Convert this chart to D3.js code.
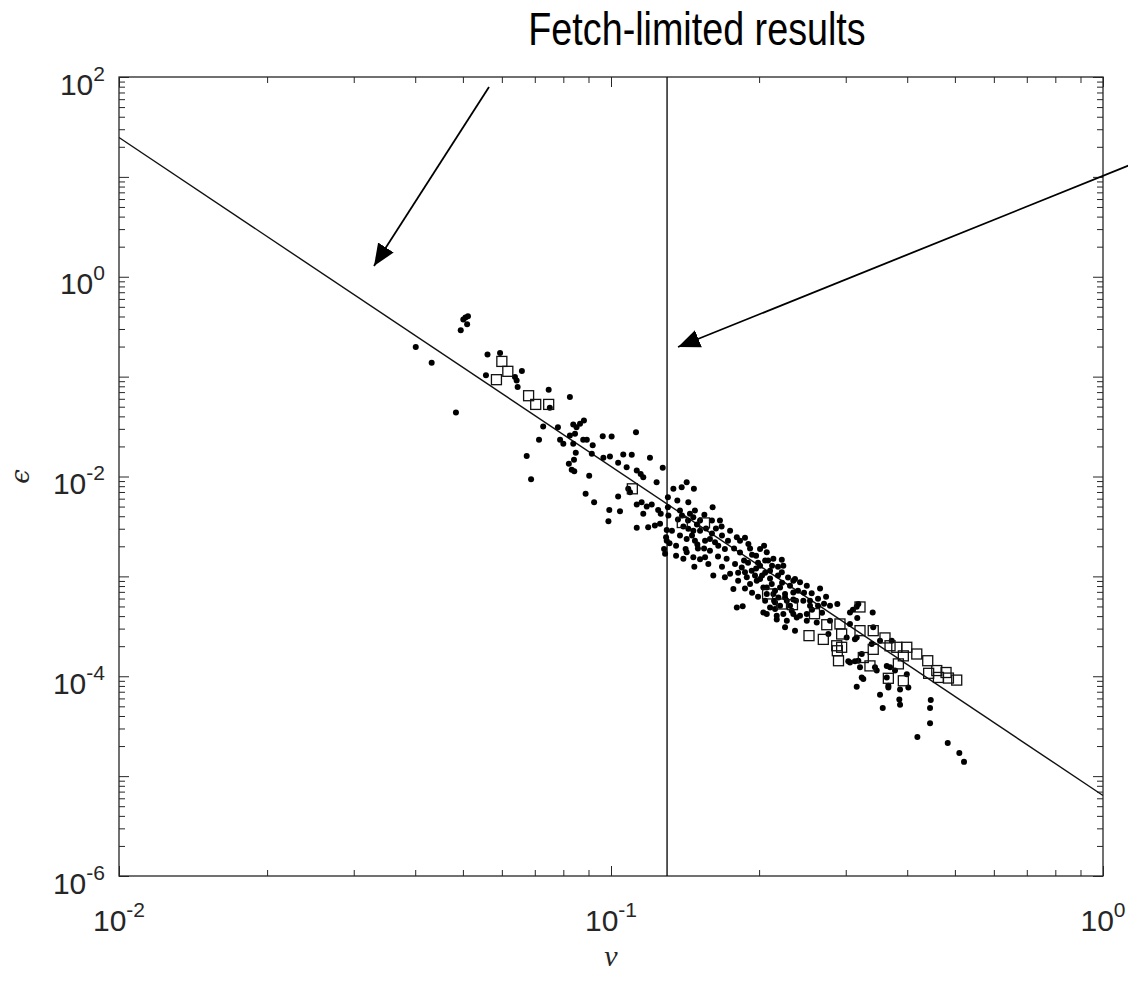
<!DOCTYPE html>
<html>
<head>
<meta charset="utf-8">
<script src="https://cdn.jsdelivr.net/npm/d3@7"></script>
<style>
  html, body { margin: 0; padding: 0; background: #fff; }
  svg { display: block; }
</style>
</head>
<body>
<svg id="chart" width="1128" height="985"></svg>
<script>
// ---------------- data ----------------
const titleText = "Fetch-limited results";
const xLabel = "\u03BD";
const yLabel = "\u03F5";
const xTickExps = [-2, -1, 0];
const yTickExps = [-6, -4, -2, 0, 2];
const xDomain = [0.01, 1];
const yDomain = [1e-6, 1e2];

// field data (dots)
const dotNu = [
  0.0401,0.0432,0.0484,0.0495,0.0501,0.0506,0.0512,0.0510,0.0561,0.0595,
  0.0557,0.0659,0.0638,0.0643,0.0646,0.0747,0.0825,0.0751,0.0728,0.0714,
  0.0674,0.0688,0.0780,0.0838,0.0851,0.0865,0.0881,0.0845,0.0825,0.0788,
  0.0800,0.0838,0.0878,0.0893,0.0918,0.0914,0.0848,0.0841,0.0821,0.0832,
  0.0842,0.0903,0.0962,0.1003,0.1124,0.1059,0.1102,0.1200,0.0995,0.0965,
  0.1034,0.1076,0.1128,0.1149,0.1163,0.1238,0.1274,0.0888,0.0924,0.0992,
  0.1043,0.1034,0.1084,0.1093,0.1128,0.1154,0.1182,0.1210,0.1247,0.1163,
  0.0988,0.1128,0.1190,0.1228,0.1258,0.1305,0.1305,0.1339,0.1392,0.1425,
  0.1474,0.1364,0.1436,0.1381,0.1447,0.1470,0.1262,0.1308,0.1298,0.1294,
  0.1298,0.1315,0.1288,0.1282,0.1403,0.1436,0.1470,0.1425,0.1481,0.1418,
  0.1425,0.1356,0.1403,0.1470,0.1498,0.1609,0.1548,0.1665,0.1678,0.1746,
  0.1802,0.1872,0.1902,0.2009,0.2073,0.2138,0.2224,0.2240,0.2366,0.2422,
  0.2558,0.2500,0.1477,0.1517,0.1553,0.1589,0.1577,0.1614,0.1704,0.1746,
  0.1589,0.1627,0.1652,0.1704,0.1718,0.1787,0.1773,0.1844,0.1872,0.1888,
  0.1932,0.1962,0.1978,0.1917,0.2009,0.2040,0.2073,0.2122,0.2155,0.2206,
  0.2189,0.2258,0.2277,0.2347,0.1802,0.1852,0.2040,0.2105,0.2155,0.2172,
  0.2240,0.2347,0.2422,0.2500,0.2057,0.2105,0.2185,0.2224,0.2347,0.2073,
  0.2138,0.2258,0.2347,0.2460,0.2057,0.2155,0.2330,0.2073,0.2172,0.2277,
  0.2385,0.2500,0.2258,0.2366,0.2787,0.2884,0.3060,0.3166,0.3403,0.3182,
  0.2619,0.2787,0.3060,0.2766,0.3013,0.3132,0.3060,0.3182,0.3468,0.3635,
  0.3778,0.3207,0.3158,0.3662,0.3635,0.3233,0.3440,0.3522,0.3721,0.3158,
  0.3103,0.3412,0.3158,0.3387,0.3036,0.3132,0.3233,0.3257,0.3691,0.3992,
  0.4021,0.3662,0.3868,0.3522,0.3567,0.3855,0.3868,0.4466,0.4451,0.4451,
  0.4195,0.4835,0.5105,0.5218,0.1517,0.1560,0.1604,0.1495,0.1368,0.1330,
  0.1829,0.1935,0.1990,0.2057,0.2105,0.2290,0.2399,0.2538,0.2635,0.2685,
  0.2562,0.2736,0.2660,0.1935,0.1872,0.1813,0.1990,
  0.1394,0.1434,0.1481,0.1517,0.1553,0.1604,0.1634,0.1681,0.1729,0.1779,
  0.1829,0.1864,0.1917,0.1972,0.2009,0.2047,0.2086,0.2125,0.2185,0.2227,
  0.2311,0.2377,0.2468,0.2538,0.1502,0.1546,0.1650,0.1681,0.1813,0.1899,
  0.1972,0.2028,0.2145,0.2206,0.2311,0.2635,0.2710,0.1461,0.1356,0.1381
];
const dotEps = [
  0.198,0.138,0.0438,0.291,0.373,0.390,0.402,0.334,0.167,0.172,
  0.103,0.114,0.0991,0.0917,0.0786,0.0740,0.0624,0.0488,0.0317,0.0233,
  0.0160,0.00939,0.0312,0.0332,0.0312,0.0337,0.0364,0.0268,0.0258,0.0233,
  0.0213,0.0213,0.0233,0.0233,0.0205,0.0169,0.0173,0.0147,0.0134,0.0117,
  0.0113,0.0102,0.0253,0.0252,0.0278,0.0166,0.0165,0.0154,0.0159,0.0154,
  0.0137,0.0124,0.0115,0.0106,0.00984,0.00876,0.0122,0.00671,0.00552,0.00463,
  0.00449,0.00631,0.00753,0.00696,0.00523,0.00552,0.00500,0.00523,0.00463,0.00423,
  0.00356,0.00306,0.00310,0.00323,0.00336,0.00620,0.00492,0.00753,0.00782,0.00876,
  0.00753,0.00574,0.00552,0.00456,0.00423,0.00391,0.00423,0.00406,0.00292,0.00246,
  0.00228,0.00214,0.00168,0.00188,0.00315,0.00299,0.00287,0.00237,0.00228,0.00188,
  0.00174,0.00161,0.00150,0.00155,0.00208,0.00492,0.00413,0.00362,0.00315,0.00287,
  0.00246,0.00243,0.00211,0.00188,0.00174,0.00150,0.00147,0.00128,0.000943,0.000871,
  0.000676,0.000807,0.00125,0.00148,0.00155,0.00181,0.00133,0.00102,0.000979,0.00106,
  0.00237,0.00219,0.00203,0.00188,0.00150,0.00133,0.000748,0.00123,0.00110,0.000979,
  0.00114,0.00102,0.000906,0.000840,0.000943,0.000776,0.000667,0.000840,0.000719,0.000776,
  0.000616,0.000667,0.000571,0.000691,0.000489,0.000501,0.000435,0.000489,0.000549,0.000404,
  0.000420,0.000420,0.000404,0.000420,0.00144,0.00114,0.00125,0.00110,0.000906,0.000776,
  0.000667,0.000616,0.000588,0.000571,0.000571,0.000472,0.000453,0.000420,0.000371,0.000360,
  0.000388,0.000360,0.000309,0.000286,0.000509,0.000529,0.000435,0.000383,0.000435,0.000529,
  0.000346,0.000360,0.000334,0.000265,0.000245,0.000234,0.000137,0.000143,0.000114,0.000127,
  0.000114,0.000123,0.0000785,0.0000803,0.0000973,0.0000973,0.000123,0.000227,0.000227,0.000497,
  0.000464,0.000309,0.000245,0.000210,0.000141,0.000141,0.000167,0.0000937,0.000123,0.000105,
  0.0000772,0.0000772,0.0000737,0.0000653,0.0000480,0.0000586,0.0000518,0.0000578,0.0000480,0.0000339,
  0.0000247,0.0000214,0.0000170,0.0000139,0.00362,0.00301,0.00268,0.00330,0.00371,0.00287,
  0.00173,0.00165,0.00137,0.00109,0.000950,0.000972,0.000719,0.000571,0.000509,0.000433,
  0.000464,0.000626,0.000754,0.000687,0.000754,0.000906,0.000626,
  0.00406,0.00362,0.00456,0.00287,0.00228,0.00362,0.00301,0.00256,0.00228,0.00190,
  0.00228,0.00144,0.00190,0.00161,0.00128,0.00203,0.00144,0.00128,0.00102,0.000865,
  0.000807,0.000571,0.000687,0.000509,0.00190,0.00190,0.00158,0.00125,0.00109,0.00137,
  0.00120,0.00102,0.000571,0.000509,0.000509,0.000598,0.000533,0.00256,0.00203,0.00256
];

// laboratory data (open squares)
const sqNu = [
  0.0600,0.0617,0.0585,0.0680,0.0703,0.0747,0.1105,0.1396,0.1549,0.2081,
  0.2221,0.2338,0.2592,0.2745,0.2920,0.2943,0.2526,0.2701,0.2876,0.2943,
  0.2884,0.2900,0.3207,0.3207,0.3412,0.3605,0.3412,0.3691,0.3809,0.3992,
  0.4183,0.3257,0.3360,0.3838,0.3928,0.3662,0.3928,0.4403,0.4593,0.4797,
  0.5043,0.4851,0.4629,0.4422
];
const sqEps = [
  0.142,0.113,0.0932,0.0644,0.0527,0.0527,0.00753,0.00346,0.00343,0.000667,
  0.000529,0.000521,0.000423,0.000328,0.000334,0.000265,0.000255,0.000234,0.000202,0.000195,
  0.000180,0.000143,0.000494,0.000286,0.000286,0.000242,0.000186,0.000202,0.000195,0.000195,
  0.000167,0.000154,0.000127,0.000133,0.000160,0.0000954,0.0000901,0.000143,0.000114,0.000109,
  0.0000915,0.0000959,0.0000973,0.000107
];

// fitted power-law line end points and the vertical threshold
const fitNu = [0.01, 1];
const fitEps = [24.8, 6.4e-6];
const thresholdNu = 0.13;

// ---------------- drawing ----------------
const svg = d3.select("#chart");
const W = 1128, H = 985;
const m = { left: 119, right: 1103, top: 77, bottom: 876 };
const axisColor = "#262626";

const x = d3.scaleLog().domain(xDomain).range([m.left, m.right]);
const y = d3.scaleLog().domain(yDomain).range([m.bottom, m.top]);

svg.append("rect").attr("width", W).attr("height", H).attr("fill", "#fff");

svg.append("defs").append("clipPath").attr("id", "clip")
  .append("rect").attr("x", m.left).attr("y", m.top)
  .attr("width", m.right - m.left).attr("height", m.bottom - m.top);

const majorLen = 10, minorLen = 6;
const xAll = x.ticks();
const yAll = y.ticks();
const isMajor = v => Math.abs(Math.log10(v) - Math.round(Math.log10(v))) < 1e-9;

function drawAxis(axisFn, scale, vals, len, transform) {
  svg.append("g").attr("transform", transform)
    .call(axisFn(scale).tickValues(vals).tickSize(len).tickFormat(""))
    .call(g => g.select(".domain").remove())
    .call(g => g.selectAll("line").attr("stroke", axisColor).attr("stroke-width", 1));
}
const xMaj = xAll.filter(isMajor), xMin = xAll.filter(v => !isMajor(v));
const yMaj = yAll.filter(isMajor), yMin = yAll.filter(v => !isMajor(v));
drawAxis(d3.axisTop, x, xMaj, majorLen, `translate(0,${m.bottom})`);
drawAxis(d3.axisTop, x, xMin, minorLen, `translate(0,${m.bottom})`);
drawAxis(d3.axisBottom, x, xMaj, majorLen, `translate(0,${m.top})`);
drawAxis(d3.axisBottom, x, xMin, minorLen, `translate(0,${m.top})`);
drawAxis(d3.axisRight, y, yMaj, majorLen, `translate(${m.left},0)`);
drawAxis(d3.axisRight, y, yMin, minorLen, `translate(${m.left},0)`);
drawAxis(d3.axisLeft, y, yMaj, majorLen, `translate(${m.right},0)`);
drawAxis(d3.axisLeft, y, yMin, minorLen, `translate(${m.right},0)`);

svg.append("rect").attr("x", m.left).attr("y", m.top)
  .attr("width", m.right - m.left).attr("height", m.bottom - m.top)
  .attr("fill", "none").attr("stroke", axisColor).attr("stroke-width", 1.3);

const labFont = "'Liberation Sans', Arial, Helvetica, sans-serif";
function powLabel(sel, e) {
  sel.append("tspan").text("10");
  sel.append("tspan").attr("dy", -14).attr("font-size", 21).text(String(e));
}
xTickExps.forEach(e => {
  const t = svg.append("text").attr("x", x(Math.pow(10, e))).attr("y", m.bottom + 55)
    .attr("text-anchor", "middle").attr("font-family", labFont).attr("font-size", 30)
    .attr("fill", axisColor);
  powLabel(t, e);
});
yTickExps.forEach(e => {
  const t = svg.append("text").attr("x", m.left - 14).attr("y", y(Math.pow(10, e)) + 17.5)
    .attr("text-anchor", "end").attr("font-family", labFont).attr("font-size", 30)
    .attr("fill", axisColor);
  powLabel(t, e);
});

svg.append("text").attr("x", x(0.1)).attr("y", 966)
  .attr("text-anchor", "middle").attr("font-family", "'Liberation Serif', 'DejaVu Serif', serif")
  .attr("font-style", "italic").attr("font-size", 30).attr("fill", axisColor).text(xLabel);
svg.append("text").attr("transform", `translate(29,${(m.top + m.bottom) / 2}) rotate(-90)`)
  .attr("text-anchor", "middle").attr("font-family", "'DejaVu Serif', 'Liberation Serif', serif")
  .attr("font-style", "italic").attr("font-size", 26).attr("fill", axisColor).text(yLabel);

const plot = svg.append("g").attr("clip-path", "url(#clip)");

plot.append("path")
  .datum(fitNu.map((v, i) => [v, fitEps[i]]))
  .attr("d", d3.line().x(d => x(d[0])).y(d => y(d[1])))
  .attr("fill", "none").attr("stroke", "#111").attr("stroke-width", 1.4);

plot.append("line")
  .attr("x1", x(thresholdNu)).attr("x2", x(thresholdNu))
  .attr("y1", y(yDomain[0])).attr("y2", y(yDomain[1]))
  .attr("stroke", "#111").attr("stroke-width", 1.4);

plot.selectAll("circle.dot").data(dotNu.map((v, i) => [v, dotEps[i]]))
  .enter().append("circle").attr("class", "dot")
  .attr("cx", d => x(d[0])).attr("cy", d => y(d[1])).attr("r", 3).attr("fill", "#000");

const sq = 10;
plot.selectAll("rect.sq").data(sqNu.map((v, i) => [v, sqEps[i]]))
  .enter().append("rect").attr("class", "sq")
  .attr("x", d => x(d[0]) - sq / 2).attr("y", d => y(d[1]) - sq / 2)
  .attr("width", sq).attr("height", sq)
  .attr("fill", "none").attr("stroke", "#111").attr("stroke-width", 1.3);

svg.append("text").attr("transform", "translate(697,45) scale(0.82,1)")
  .attr("text-anchor", "middle")
  .attr("font-family", labFont).attr("font-size", 46).attr("fill", "#000").text(titleText);

const defs = svg.select("defs");
defs.append("marker").attr("id", "arrowHead").attr("viewBox", "0 0 10 10")
  .attr("refX", 10).attr("refY", 5).attr("markerWidth", 22).attr("markerHeight", 22)
  .attr("markerUnits", "userSpaceOnUse").attr("orient", "auto")
  .append("path").attr("d", "M0,0.8 L10,5 L0,9.2 Z").attr("fill", "#000");

const arrows = [
  { x1: 489, y1: 87, x2: 374, y2: 266 },
  { x1: 1130, y1: 165, x2: 678, y2: 347 }
];
svg.selectAll("line.arrow").data(arrows).enter().append("line").attr("class", "arrow")
  .attr("x1", d => d.x1).attr("y1", d => d.y1).attr("x2", d => d.x2).attr("y2", d => d.y2)
  .attr("stroke", "#000").attr("stroke-width", 1.8).attr("marker-end", "url(#arrowHead)");
</script>
</body>
</html>
